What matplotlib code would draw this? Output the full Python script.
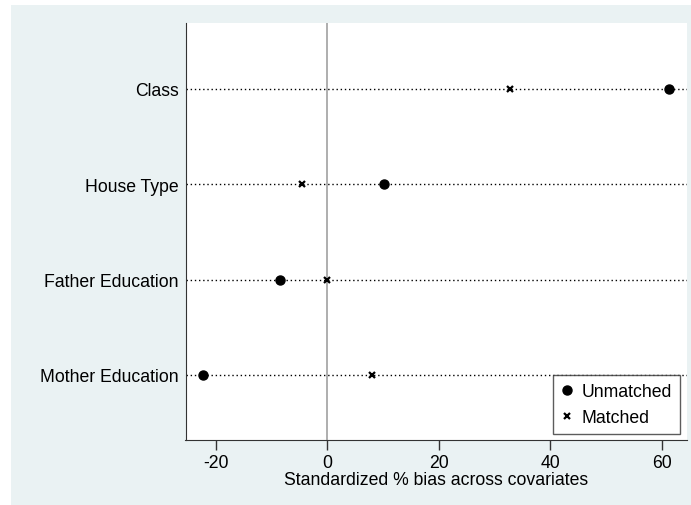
import matplotlib.pyplot as plt
from matplotlib.patches import Rectangle

plt.rcParams["font.family"] = ["Liberation Sans", "DejaVu Sans"]

covariates = ["Mother Education", "Father Education", "House Type", "Class"]
unmatched = [-22.3, -8.5, 10.1, 61.2]
matched = [8.0, 0.0, -4.6, 32.7]
x_ticks = [-20, 0, 20, 40, 60]

fig = plt.figure(figsize=(6.91, 5.06), dpi=100)
fig.patch.set_facecolor("white")

# fundo azul claro do estilo s2color do Stata (atrás dos eixos)
fig.patches.append(Rectangle((11 / 691, 0), 1 - 11 / 691, 1 - 6 / 506,
                             transform=fig.transFigure, facecolor="#eaf2f3",
                             edgecolor="none", zorder=-10))

ax = fig.add_axes([185.5 / 691, 1 - 440.7 / 506, (686.5 - 185.5) / 691, (440.7 - 24) / 506])
ax.set_facecolor("white")

y = list(range(1, len(covariates) + 1))

for yi in y:
    ax.axhline(yi, color="black", linewidth=1.0, linestyle=(0, (1, 2)), zorder=1)

ax.axvline(0, color="#a8a8a8", linewidth=1.3, zorder=1)

ax.plot(unmatched, y, linestyle="none", marker="o", markersize=6.5,
        color="black", label="Unmatched", zorder=3)
ax.plot(matched, y, linestyle="none", marker="x", markersize=4.5,
        markeredgewidth=1.6, color="black", label="Matched", zorder=3)

ax.set_xlim(-25.4, 64.4)
ax.set_ylim(0.32, 4.69)
ax.set_xticks(x_ticks)
ax.set_xticklabels([str(t) for t in x_ticks])
ax.set_yticks(y)
ax.set_yticklabels(covariates)

ax.tick_params(axis="x", direction="out", length=7, width=1, color="#333333",
               labelsize=12.7, pad=3)
ax.tick_params(axis="y", length=0, labelsize=12.7, pad=5)

ax.spines["top"].set_visible(False)
ax.spines["right"].set_visible(False)
ax.spines["left"].set_color("#333333")
ax.spines["bottom"].set_color("#333333")

ax.set_xlabel("Standardized % bias across covariates", fontsize=12.7, labelpad=0)

leg = ax.legend(loc="lower right", bbox_to_anchor=((680 - 185.5) / 501, (440.7 - 435) / 416.7),
                borderaxespad=0, frameon=True, fancybox=False, fontsize=12.7,
                handlelength=0.7, handletextpad=0.5, borderpad=0.45, labelspacing=0.5)
leg.get_frame().set_edgecolor("#333333")
leg.get_frame().set_linewidth(1.0)

plt.savefig("out.png", dpi=100)
plt.close()
